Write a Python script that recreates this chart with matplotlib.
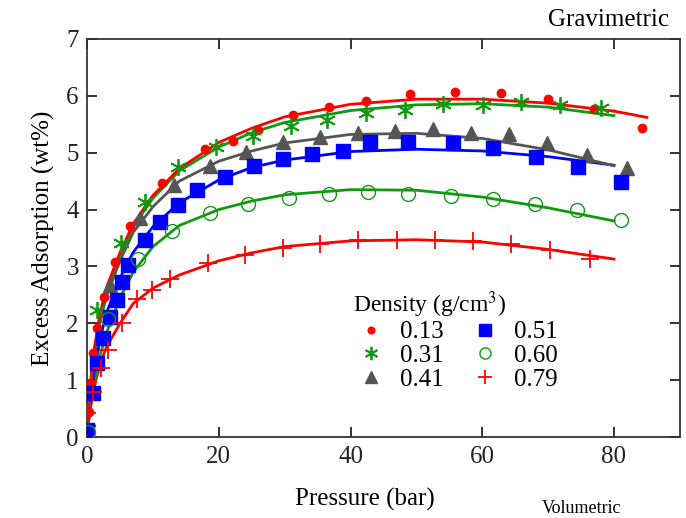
import matplotlib.pyplot as plt

plt.rcParams['font.family'] = ['Liberation Serif', 'DejaVu Serif']
plt.rcParams['mathtext.fontset'] = 'stix'

densities = ["0.13", "0.31", "0.41", "0.51", "0.60", "0.79"]

# measured points (pressure in bar, excess adsorption in wt%)
p_013 = [0.0, 0.3, 0.6, 0.9, 1.5, 2.6, 4.3, 6.5, 11.4, 17.9, 22.1, 25.9, 31.2, 36.8, 42.3, 49.0, 55.8, 62.8, 70.0, 77.0, 84.3]
w_013 = [0.05, 0.45, 0.95, 1.48, 1.92, 2.46, 3.08, 3.71, 4.47, 5.07, 5.21, 5.40, 5.66, 5.80, 5.91, 6.03, 6.07, 6.05, 5.94, 5.77, 5.43]

p_031 = [0.1, 1.5, 5.2, 8.8, 13.8, 19.5, 25.2, 30.9, 36.5, 42.4, 48.2, 54.0, 60.1, 65.9, 71.8, 78.0]
w_031 = [0.15, 2.23, 3.41, 4.13, 4.75, 5.10, 5.29, 5.47, 5.58, 5.70, 5.75, 5.86, 5.84, 5.89, 5.84, 5.79]

p_041 = [0.1, 3.4, 8.0, 13.2, 18.7, 24.2, 29.8, 35.3, 41.1, 46.7, 52.5, 58.3, 64.0, 69.9, 75.9, 82.0]
w_041 = [0.12, 2.67, 3.85, 4.43, 4.77, 5.01, 5.19, 5.28, 5.35, 5.38, 5.41, 5.35, 5.33, 5.17, 4.96, 4.73]

p_051 = [0.0, 0.9, 1.5, 2.4, 3.5, 4.5, 5.3, 6.2, 8.8, 11.1, 13.8, 16.7, 21.0, 25.4, 29.8, 34.2, 38.8, 43.0, 48.8, 55.5, 61.6, 68.1, 74.5, 81.1]
w_051 = [0.12, 0.77, 1.30, 1.74, 2.11, 2.41, 2.73, 3.02, 3.46, 3.78, 4.08, 4.34, 4.58, 4.77, 4.89, 4.97, 5.03, 5.19, 5.19, 5.17, 5.08, 4.93, 4.75, 4.49]

p_060 = [0.1, 3.2, 7.8, 12.9, 18.7, 24.5, 30.6, 36.7, 42.7, 48.8, 55.2, 61.6, 68.0, 74.4, 81.1]
w_060 = [0.1, 2.08, 3.13, 3.63, 3.94, 4.10, 4.20, 4.27, 4.31, 4.27, 4.24, 4.19, 4.10, 3.99, 3.82]

p_079 = [0.0, 0.9, 2.1, 3.2, 5.3, 7.6, 9.9, 12.6, 18.4, 24.0, 29.8, 35.4, 41.2, 47.1, 52.8, 58.6, 64.3, 70.3, 76.3]
w_079 = [0.42, 0.79, 1.21, 1.53, 2.00, 2.43, 2.59, 2.78, 3.06, 3.20, 3.32, 3.39, 3.46, 3.46, 3.46, 3.45, 3.39, 3.29, 3.13]

# fitted curves
fit_p = [0, 0.25, 0.5, 1, 2, 3, 5, 7, 10, 14, 20, 25, 30, 40, 50, 60, 70, 80]
fit_013 = [0, 0.55, 0.95, 1.5, 2.2, 2.65, 3.25, 3.75, 4.25, 4.72, 5.18, 5.43, 5.63, 5.85, 5.94, 5.94, 5.87, 5.73]
fit_031 = [0, 0.5, 0.9, 1.45, 2.15, 2.6, 3.2, 3.7, 4.2, 4.68, 5.1, 5.35, 5.53, 5.74, 5.84, 5.86, 5.80, 5.65]
fit_041 = [0, 0.45, 0.8, 1.35, 2.05, 2.5, 3.1, 3.6, 4.05, 4.5, 4.85, 5.03, 5.17, 5.32, 5.34, 5.25, 5.05, 4.77]
fit_051 = [0, 0.35, 0.65, 1.1, 1.75, 2.2, 2.8, 3.25, 3.7, 4.12, 4.52, 4.74, 4.87, 5.02, 5.06, 5.03, 4.93, 4.78]
fit_060 = [0, 0.3, 0.55, 0.9, 1.45, 1.85, 2.45, 2.9, 3.35, 3.72, 4.0, 4.15, 4.26, 4.35, 4.34, 4.22, 4.03, 3.80]
fit_079 = [0, 0.3, 0.5, 0.85, 1.3, 1.6, 2.0, 2.35, 2.62, 2.85, 3.1, 3.24, 3.35, 3.45, 3.47, 3.43, 3.3, 3.13]
tail_p_013 = [80, 85]
tail_013 = [5.73, 5.62]

fig = plt.figure(figsize=(6.86, 5.18), dpi=100)
ax = fig.add_axes([0.127, 0.156, 0.864, 0.769])

red, green, grey, blue = "#ff0000", "#119911", "#555555", "#0000ff"

# lines first
ax.plot(fit_p, fit_079, color=red, lw=2)
ax.plot(fit_p, fit_060, color=green, lw=2)
ax.plot(fit_p, fit_051, color=blue, lw=2)
ax.plot(fit_p, fit_041, color=grey, lw=2)
ax.plot(fit_p, fit_031, color=green, lw=2)
ax.plot(fit_p, fit_013, color=red, lw=2)
ax.plot(tail_p_013, tail_013, color=red, lw=2)

ax.plot(p_013, w_013, "o", color=red, ms=6, mec=red, label=densities[0], zorder=3)
ax.plot(p_031, w_031, ls="none", marker=(6, 2, 0), color=green, ms=12, mew=1.3, label=densities[1], zorder=3)
ax.plot(p_041, w_041, "^", color=grey, ms=10, mec=grey, label=densities[2], zorder=3)
ax.plot(p_051, w_051, "s", color=blue, ms=10, mec=blue, label=densities[3], zorder=3)
ax.plot(p_060, w_060, "o", mfc="none", mec=green, ms=10, mew=1.0, label=densities[4], zorder=3)
ax.plot(p_079, w_079, "+", color=red, ms=13, mew=1.3, label=densities[5], zorder=3)

ax.set_xlim(0, 90)
ax.set_ylim(0, 7)
ax.set_xticks([0, 20, 40, 60, 80])
ax.set_yticks(range(8))
ax.tick_params(direction="in", length=7, width=1.3, top=True, right=True,
               labelsize=18, colors="#222222", pad=6)
for s in ax.spines.values():
    s.set_linewidth(1.3)
    s.set_color("#333333")

ax.set_ylabel("Excess Adsorption (wt%)", fontsize=18, labelpad=8)
fig.text(0.532, 0.035, "Pressure (bar)", fontsize=18, ha="center", va="center")
fig.text(0.975, 0.962, "Gravimetric", fontsize=18, ha="right", va="center")
fig.text(0.79, 0.002, "Volumetric", fontsize=13, ha="left", va="bottom")

leg = ax.legend(ncol=2, frameon=False, fontsize=18, title="Density (g/cm$^3$)",
                title_fontsize=17, loc="lower left", bbox_to_anchor=(0.41, 0.06),
                handletextpad=0.4, columnspacing=0.9, labelspacing=0.05,
                handlelength=1.5, markerscale=0.8)
leg._legend_box.align = "left"

fig.savefig("out.png", dpi=100)
